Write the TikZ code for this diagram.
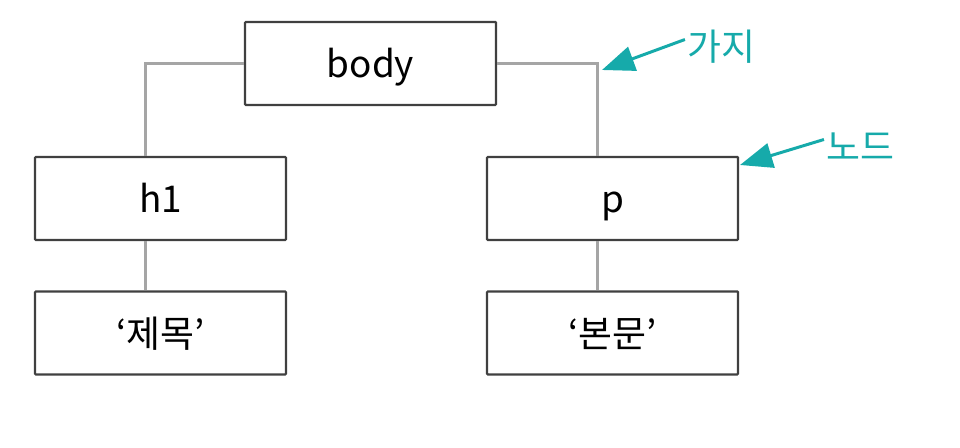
\documentclass[tikz,border=0pt]{standalone}
\usepackage{fontspec}
\setmainfont{Noto Sans CJK KR}
\usetikzlibrary{positioning,arrows.meta}
\definecolor{tagteal}{RGB}{22,170,170}
\definecolor{boxline}{RGB}{64,64,64}
\definecolor{branchgray}{RGB}{165,165,165}

\begin{document}
\begin{tikzpicture}[
  every node/.style={font=\fontsize{21}{25}\selectfont},
  tag/.style={draw=boxline,line width=1.3pt,rounded corners=0.5pt,minimum width=5.02cm,minimum height=1.66cm,
              inner sep=0pt,text height=0.7cm,text depth=0.12cm},
  branch/.style={draw=branchgray,line width=1.5pt},
  callout/.style={draw=tagteal,line width=1.7pt,-{Triangle[length=6.5mm,width=5mm]}},
  note/.style={text=tagteal,inner sep=1pt}
]
\useasboundingbox (0,0) rectangle (19.2,-8.96);

\node[tag] (body) at (7.41,-1.27) {body};
\node[tag] (h1) at (3.21,-3.97) {h1};
\node[tag] (p) at (12.25,-3.97) {p};
\node[tag] (title) at (3.21,-6.66) {‘제목’};
\node[tag] (text) at (12.25,-6.66) {‘본문’};

\draw[branch] (body.west) -| ([xshift=-3mm]h1.north);
\draw[branch] (body.east) -| ([xshift=-3mm]p.north);
\draw[branch] ([xshift=-3mm]h1.south) -- ([xshift=-3mm]title.north);
\draw[branch] ([xshift=-3mm]p.south) -- ([xshift=-3mm]text.north);

% callouts
\node[note] (gaji) at (14.42,-0.94) {가지};
\node[note] (node) at (17.2,-2.94) {노드};
\coordinate (gajitip) at (12.04,-1.4);
\coordinate (nodetip) at (14.8,-3.3);
\draw[callout] ([yshift=1.5mm]gaji.west) -- (gajitip);
\draw[callout] ([yshift=1.5mm]node.west) -- (nodetip);

\end{tikzpicture}
\end{document}
